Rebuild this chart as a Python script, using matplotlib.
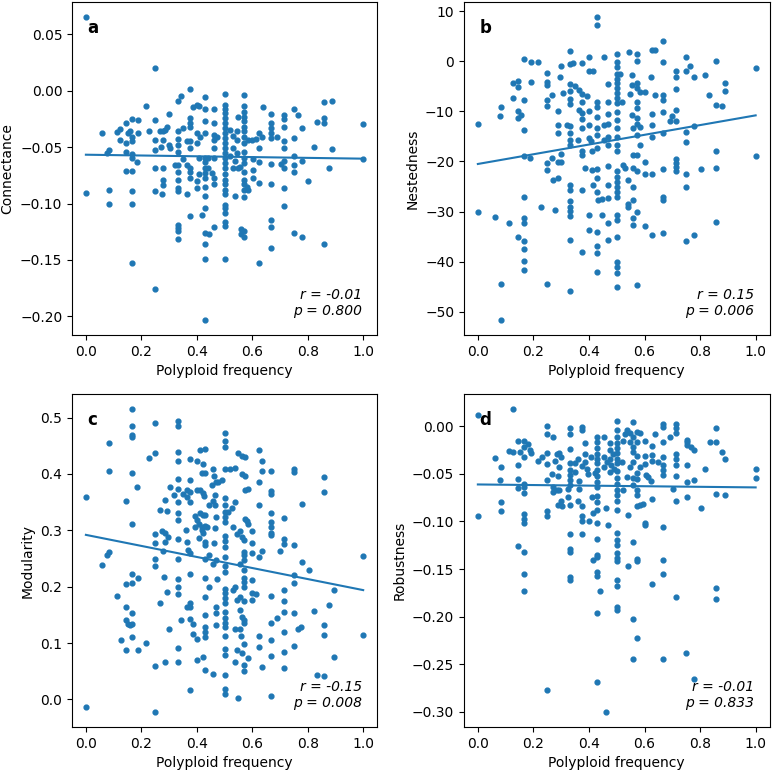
import numpy as np
import matplotlib.pyplot as plt

# each row: polyploid frequency, then the index values found at that frequency
cols_a = [
    (0.0, 0.065, -0.091),
    (0.058, -0.038),
    (0.077, -0.055),
    (0.083, -0.053, -0.088, -0.100),
    (0.111, -0.037),
    (0.124, -0.034, -0.044),
    (0.143, -0.029, -0.046, -0.054, -0.071),
    (0.153, -0.038),
    (0.159, -0.036),
    (0.167, -0.025, -0.041, -0.045, -0.056, -0.060, -0.071, -0.089, -0.100, -0.153),
    (0.183, -0.063),
    (0.189, -0.026, -0.038),
    (0.215, -0.014),
    (0.227, -0.036),
    (0.25, 0.020, -0.026, -0.044, -0.053, -0.069, -0.089, -0.176),
    (0.267, -0.036),
    (0.271, -0.050),
    (0.273, -0.092),
    (0.279, -0.036, -0.044, -0.069, -0.079, -0.084),
    (0.286, -0.035),
    (0.293, -0.032),
    (0.298, -0.021, -0.048),
    (0.304, -0.051),
    (0.321, -0.066),
    (0.333, -0.009, -0.036, -0.043, -0.048, -0.054, -0.066, -0.072, -0.079, -0.086, -0.089,
     -0.119, -0.122, -0.124, -0.131),
    (0.342, -0.005),
    (0.351, -0.033, -0.061),
    (0.363, -0.045, -0.066, -0.092),
    (0.375, 0.0015, -0.024, -0.029, -0.032, -0.045, -0.051, -0.069, -0.072, -0.077, -0.111),
    (0.385, -0.015),
    (0.4, -0.013, -0.038, -0.046, -0.080, -0.086),
    (0.409, -0.014, -0.060, -0.074),
    (0.411, -0.041),
    (0.418, -0.110),
    (0.429, -0.006, -0.016, -0.027, -0.038, -0.060, -0.063, -0.069, -0.073, -0.077, -0.085,
     -0.093, -0.104, -0.126, -0.136, -0.149, -0.203),
    (0.442, -0.060, -0.069),
    (0.445, -0.127),
    (0.454, -0.073),
    (0.462, -0.016, -0.029, -0.039, -0.044, -0.051, -0.060, -0.077, -0.083, -0.121),
    (0.474, -0.041),
    (0.5, -0.003, -0.013, -0.016, -0.020, -0.024, -0.029, -0.033, -0.038, -0.042, -0.046,
     -0.051, -0.055, -0.060, -0.064, -0.069, -0.074, -0.079, -0.083, -0.088, -0.092,
     -0.101, -0.104, -0.108, -0.116, -0.120, -0.149),
    (0.52, -0.035, -0.058),
    (0.532, -0.040, -0.051, -0.069),
    (0.538, -0.062, -0.093),
    (0.544, -0.036, -0.044, -0.055),
    (0.55, -0.023, -0.069),
    (0.556, -0.068),
    (0.56, -0.123, -0.127),
    (0.571, -0.004, -0.014, -0.019, -0.023, -0.027, -0.032, -0.036, -0.041, -0.046, -0.054,
     -0.060, -0.064, -0.072, -0.079, -0.083, -0.088, -0.094, -0.124, -0.130),
    (0.58, -0.085),
    (0.586, -0.044, -0.088),
    (0.598, -0.044),
    (0.604, -0.061, -0.070, -0.077),
    (0.614, -0.043),
    (0.626, -0.038, -0.051, -0.063, -0.082, -0.153),
    (0.634, -0.041),
    (0.638, -0.015),
    (0.667, -0.021, -0.029, -0.033, -0.038, -0.042, -0.065, -0.083, -0.115, -0.121, -0.139),
    (0.688, -0.041),
    (0.703, -0.065),
    (0.714, -0.022, -0.025, -0.032, -0.045, -0.051, -0.062, -0.069, -0.086, -0.102),
    (0.75, -0.016, -0.042, -0.058, -0.066, -0.072, -0.126),
    (0.766, -0.022),
    (0.778, -0.033, -0.062, -0.130),
    (0.8, -0.080),
    (0.821, -0.050),
    (0.833, -0.028),
    (0.857, -0.010, -0.024, -0.029, -0.136),
    (0.877, -0.069),
    (0.889, -0.009, -0.052),
    (1.0, -0.030, -0.061),
]

cols_b = [
    (0.0, -12.5, -30.0),
    (0.06, -31.0),
    (0.078, -11.0),
    (0.084, -9.2, -44.5, -51.6),
    (0.113, -32.2),
    (0.126, -4.3, -7.4),
    (0.144, -4.0, -5.2, -10.0, -11.4, -35.0),
    (0.156, -10.8),
    (0.167, 0.5, -7.8, -13.7, -19.0, -27.0, -31.3, -32.3, -35.8, -37.5, -39.8, -41.6),
    (0.186, -19.3),
    (0.19, -0.1, -4.1),
    (0.216, -0.1),
    (0.228, -29.1),
    (0.25, -2.3, -4.1, -4.8, -7.8, -8.9, -20.3, -21.8, -44.5),
    (0.266, -6.8, -19.3),
    (0.272, -23.6),
    (0.276, -29.6),
    (0.288, -10.0, -12.7, -14.3, -20.2, -23.2),
    (0.296, -3.1),
    (0.3, -0.9, -18.5, -20.2),
    (0.305, -6.3),
    (0.32, -12.7),
    (0.333, 2.0, -0.5, -4.6, -6.0, -7.6, -8.6, -13.0, -14.4, -15.7, -16.7, -24.7, -25.6,
     -27.8, -29.0, -29.9, -30.9, -35.7, -45.8),
    (0.344, -0.3),
    (0.35, -5.0),
    (0.362, -15.7),
    (0.364, -5.8, -9.8),
    (0.374, -0.3, -6.6, -8.1, -10.4, -11.6, -13.4, -18.0, -18.8, -25.7, -38.0),
    (0.386, -21.4),
    (0.392, -7.0),
    (0.4, 0.9, -2.0, -10.0, -12.7, -15.4, -30.7, -33.7),
    (0.408, -16.0),
    (0.412, -18.0, -21.7),
    (0.416, -2.0, -24.7),
    (0.429, 8.8, 7.2, -8.1, -9.1, -11.1, -13.4, -14.7, -17.4, -21.5, -23.2, -26.0, -34.0,
     -36.8, -38.3, -42.0),
    (0.434, -27.7),
    (0.446, -27.4, -30.7),
    (0.454, 0.9, -12.7, -15.7),
    (0.47, -4.6, -8.1, -10.6, -12.5, -15.1, -16.7, -21.0, -24.7, -27.2, -32.3, -35.7),
    (0.5, 1.5, -0.1, -1.1, -2.5, -3.5, -4.4, -5.4, -6.4, -7.4, -8.4, -10.1, -11.8, -13.4,
     -15.1, -16.7, -18.0, -22.0, -23.0, -24.0, -25.0, -26.0, -27.0, -30.7, -31.7, -35.0,
     -40.0, -41.0, -42.3, -45.0),
    (0.512, -2.5),
    (0.518, -8.1),
    (0.524, -20.7),
    (0.53, -21.4),
    (0.54, -28.4),
    (0.542, -23.7, -29.0),
    (0.545, 1.9),
    (0.548, -6.6),
    (0.554, -2.7, -4.8, -10.8),
    (0.557, -27.7, -31.3, -32.7),
    (0.56, -13.4, -18.8, -21.4, -25.0),
    (0.572, 1.5, 0.0, -4.4, -5.4, -8.1, -9.4, -11.4, -12.6, -14.7, -18.8, -22.0, -30.0, -44.6),
    (0.584, -6.2, -13.1, -16.7),
    (0.6, -6.1, -20.2),
    (0.602, -22.4, -32.9),
    (0.624, -3.1),
    (0.626, 2.2, -10.6, -12.7, -15.1, -22.4, -34.7),
    (0.636, 2.3),
    (0.638, -6.8),
    (0.668, 4.0, -0.1, -6.8, -7.8, -10.1, -14.3, -21.6, -27.0, -27.7, -34.3),
    (0.69, -11.9),
    (0.698, -10.9),
    (0.714, -1.9, -3.1, -5.6, -9.8, -11.9, -19.5, -20.4, -21.2, -22.0),
    (0.75, 0.9, -1.9, -14.1, -16.1, -22.4, -25.0, -35.9),
    (0.764, -1.0),
    (0.778, -3.1, -12.9, -34.7),
    (0.802, -21.6),
    (0.818, -2.8),
    (0.833, -6.8),
    (0.857, 0.0, -8.8, -18.0, -21.4, -32.0),
    (0.878, -9.0),
    (0.89, -4.4, -5.9),
    (1.0, -1.3, -18.9),
]

cols_c = [
    (0.0, 0.360, -0.014),
    (0.058, 0.239),
    (0.075, 0.256),
    (0.084, 0.262, 0.455, 0.406),
    (0.111, 0.184),
    (0.125, 0.106),
    (0.143, 0.352, 0.205, 0.164, 0.141, 0.087),
    (0.153, 0.133),
    (0.159, 0.132),
    (0.167, 0.515, 0.486, 0.470, 0.466, 0.402, 0.311, 0.222, 0.207, 0.154, 0.133, 0.110),
    (0.183, 0.377),
    (0.189, 0.216, 0.088),
    (0.215, 0.100),
    (0.229, 0.429),
    (0.25, 0.491, 0.438, 0.293, 0.277, 0.250, 0.237, 0.060, -0.022),
    (0.267, 0.336, 0.171),
    (0.273, 0.299),
    (0.279, 0.263),
    (0.281, 0.217),
    (0.286, 0.354, 0.280, 0.296, 0.066),
    (0.293, 0.335, 0.190),
    (0.297, 0.289),
    (0.299, 0.125),
    (0.303, 0.377),
    (0.319, 0.363),
    (0.333, 0.494, 0.485, 0.439, 0.423, 0.391, 0.373, 0.351, 0.330, 0.318, 0.285, 0.249,
     0.213, 0.200, 0.187, 0.091, 0.066),
    (0.342, 0.141),
    (0.351, 0.365),
    (0.361, 0.300),
    (0.363, 0.279, 0.360),
    (0.366, 0.164, 0.371),
    (0.369, 0.266),
    (0.375, 0.427, 0.389, 0.368, 0.350, 0.259, 0.223, 0.171, 0.164, 0.142, 0.016),
    (0.385, 0.133, 0.116),
    (0.393, 0.325, 0.306),
    (0.4, 0.423, 0.318, 0.107, 0.070),
    (0.402, 0.371),
    (0.409, 0.312, 0.286),
    (0.41, 0.442),
    (0.411, 0.371, 0.331),
    (0.417, 0.402, 0.306, 0.300),
    (0.421, 0.367, 0.327, 0.296, 0.076),
    (0.423, 0.417),
    (0.426, 0.361),
    (0.429, 0.444, 0.402, 0.327, 0.308, 0.280, 0.274, 0.250, 0.215, 0.181, 0.150, 0.128,
     0.119, 0.110, 0.053),
    (0.435, 0.306),
    (0.445, 0.345, 0.256, 0.200),
    (0.454, 0.381),
    (0.457, 0.408, 0.241, 0.046),
    (0.46, 0.352),
    (0.462, 0.396, 0.278),
    (0.466, 0.363, 0.345, 0.305),
    (0.469, 0.386, 0.324, 0.247, 0.164, 0.153, 0.132),
    (0.474, 0.213),
    (0.478, 0.386),
    (0.49, 0.389),
    (0.5, 0.473, 0.459, 0.447, 0.408, 0.357, 0.345, 0.333, 0.324, 0.315, 0.290, 0.282, 0.271,
     0.253, 0.236, 0.227, 0.196, 0.188, 0.180, 0.171, 0.156, 0.144, 0.135, 0.128, 0.113,
     0.089, 0.078, 0.043, 0.019, 0.010),
    (0.514, 0.332),
    (0.52, 0.409),
    (0.526, 0.339),
    (0.532, 0.306, 0.195),
    (0.538, 0.350, 0.411, 0.200, 0.125, 0.067),
    (0.544, 0.293, 0.177, 0.088),
    (0.547, 0.002),
    (0.55, 0.437),
    (0.556, 0.298, 0.241, 0.182, 0.159, 0.125),
    (0.558, 0.112),
    (0.562, 0.432, 0.400, 0.289, 0.147, 0.082),
    (0.571, 0.283, 0.262, 0.256, 0.247, 0.230, 0.215, 0.209, 0.200, 0.175, 0.141, 0.135,
     0.099, 0.061, 0.050),
    (0.572, 0.397, 0.321),
    (0.574, 0.430, 0.371),
    (0.58, 0.316),
    (0.586, 0.373, 0.312, 0.073),
    (0.6, 0.299, 0.277, 0.259, 0.212, 0.188, 0.177),
    (0.612, 0.187),
    (0.626, 0.442, 0.386, 0.345, 0.253, 0.112, 0.093),
    (0.634, 0.423, 0.405, 0.264, 0.057),
    (0.667, 0.405, 0.370, 0.364, 0.331, 0.314, 0.306, 0.296, 0.292, 0.184, 0.135, 0.105,
     0.077, 0.007),
    (0.688, 0.144),
    (0.7, 0.264),
    (0.714, 0.322, 0.284, 0.276, 0.194, 0.175, 0.156, 0.120, 0.084, 0.055),
    (0.75, 0.408, 0.404, 0.274, 0.221, 0.207, 0.153, 0.094),
    (0.766, 0.125),
    (0.775, 0.129),
    (0.778, 0.347),
    (0.781, 0.243),
    (0.803, 0.230),
    (0.821, 0.157),
    (0.835, 0.043),
    (0.859, 0.395, 0.368, 0.132, 0.115, 0.041),
    (0.877, 0.168),
    (0.893, 0.194, 0.076),
    (1.0, 0.255, 0.115),
]

cols_d = [
    (0.0, 0.012, -0.094),
    (0.06, -0.033),
    (0.08, -0.056),
    (0.084, -0.043, -0.080, -0.089),
    (0.113, -0.026),
    (0.126, 0.018, -0.027),
    (0.144, -0.015, -0.041, -0.055, -0.065, -0.126),
    (0.15, -0.027),
    (0.167, -0.015, -0.022, -0.032, -0.061, -0.064, -0.070, -0.092, -0.097, -0.102, -0.132,
     -0.155, -0.173),
    (0.182, -0.019),
    (0.188, -0.025),
    (0.192, -0.028),
    (0.216, -0.036),
    (0.23, -0.032),
    (0.25, 0.0, -0.008, -0.028, -0.040, -0.056, -0.089, -0.094, -0.277),
    (0.266, -0.050),
    (0.272, -0.011, -0.064, -0.069),
    (0.278, -0.036),
    (0.284, -0.029, -0.067),
    (0.288, -0.083),
    (0.29, -0.052),
    (0.292, -0.028, -0.043, -0.067),
    (0.3, -0.032, -0.078),
    (0.302, -0.084),
    (0.324, -0.066, -0.074),
    (0.333, -0.002, -0.008, -0.024, -0.039, -0.046, -0.051, -0.056, -0.062, -0.083, -0.113,
     -0.129, -0.132, -0.158, -0.161),
    (0.35, -0.039, -0.048),
    (0.362, -0.034, -0.079),
    (0.364, -0.057, -0.066),
    (0.374, -0.001, -0.004, -0.042, -0.084, -0.094, -0.099, -0.113),
    (0.386, -0.018, -0.029, -0.037),
    (0.392, -0.045),
    (0.398, -0.050),
    (0.4, -0.100),
    (0.408, -0.032),
    (0.41, -0.074),
    (0.416, -0.091, -0.140),
    (0.42, -0.049),
    (0.429, -0.011, -0.017, -0.023, -0.029, -0.034, -0.039, -0.046, -0.052, -0.058, -0.064,
     -0.073, -0.080, -0.088, -0.102, -0.118, -0.135, -0.137, -0.153, -0.157, -0.196, -0.269),
    (0.44, -0.173),
    (0.455, -0.011, -0.032, -0.043),
    (0.462, -0.086, -0.300),
    (0.464, -0.037),
    (0.47, -0.104),
    (0.476, -0.018, -0.025, -0.034, -0.048),
    (0.478, -0.041),
    (0.488, -0.029),
    (0.49, -0.045),
    (0.5, 0.006, -0.004, -0.011, -0.018, -0.023, -0.028, -0.034, -0.039, -0.047, -0.054,
     -0.061, -0.067, -0.072, -0.078, -0.088, -0.112, -0.119, -0.125, -0.133, -0.138, -0.142,
     -0.162, -0.168, -0.190, -0.193),
    (0.518, -0.037),
    (0.524, -0.015, -0.067),
    (0.53, -0.008),
    (0.536, -0.004, -0.053),
    (0.54, -0.093, -0.147),
    (0.546, -0.007),
    (0.548, -0.016, -0.043),
    (0.557, 0.004, -0.011, -0.022, -0.027, -0.037, -0.054, -0.062, -0.122, -0.202, -0.244),
    (0.572, -0.006, -0.017, -0.031, -0.049, -0.055, -0.067, -0.072, -0.084, -0.139, -0.142,
     -0.222),
    (0.582, -0.043, -0.083),
    (0.584, -0.007),
    (0.594, -0.082),
    (0.602, -0.015, -0.031, -0.040, -0.102, -0.104),
    (0.606, -0.051),
    (0.614, -0.053),
    (0.623, -0.057),
    (0.626, -0.021, -0.030, -0.036, -0.076, -0.166),
    (0.636, -0.008),
    (0.65, -0.037),
    (0.668, 0.002, -0.001, -0.016, -0.032, -0.041, -0.046, -0.051, -0.106, -0.140, -0.155,
     -0.244),
    (0.69, -0.011),
    (0.702, -0.066),
    (0.714, 0.002, -0.002, -0.007, -0.029, -0.034, -0.041, -0.052, -0.078, -0.179),
    (0.75, -0.238),
    (0.752, -0.014, -0.017, -0.020, -0.041, -0.059, -0.074),
    (0.767, -0.022),
    (0.778, -0.025, -0.056, -0.265),
    (0.802, -0.086),
    (0.818, -0.045),
    (0.836, -0.016),
    (0.857, -0.002, -0.016, -0.071, -0.170, -0.181),
    (0.878, -0.027),
    (0.89, -0.034, -0.072),
    (1.0, -0.045, -0.054),
]

# fitted line values at x = 0 and x = 1
fit_a = [-0.0568, -0.0603]
fit_b = [-20.5, -10.8]
fit_c = [0.292, 0.194]
fit_d = [-0.0611, -0.0642]

panel_letters = ['a', 'b', 'c', 'd']
y_labels = ['Connectance', 'Nestedness', 'Modularity', 'Robustness']
r_text = ['-0.01', '0.15', '-0.15', '-0.01']
p_text = ['0.800', '0.006', '0.008', '0.833']


def unpack(cols):
    xs, ys = [], []
    for row in cols:
        for v in row[1:]:
            xs.append(row[0])
            ys.append(v)
    return np.array(xs), np.array(ys)


fig = plt.figure(figsize=(7.72, 7.72), dpi=100)
boxes = [
    [0.0933, 0.5661, 0.3951, 0.4313],
    [0.6010, 0.5661, 0.3958, 0.4313],
    [0.0933, 0.0583, 0.3951, 0.4313],
    [0.6010, 0.0583, 0.3958, 0.4313],
]
all_cols = [cols_a, cols_b, cols_c, cols_d]
all_fits = [fit_a, fit_b, fit_c, fit_d]
blue = '#1f77b4'

for i in range(4):
    ax = fig.add_axes(boxes[i])
    x, y = unpack(all_cols[i])
    ax.scatter(x, y, s=12, color=blue)
    ax.plot([0, 1], all_fits[i], color=blue, lw=1.5)
    ax.set_xlabel('Polyploid frequency')
    ax.set_ylabel(y_labels[i])
    ax.text(0.05, 0.95, panel_letters[i], transform=ax.transAxes,
            fontsize=12, fontweight='bold', va='top', ha='left')
    ax.text(0.95, 0.05, f'r = {r_text[i]}\np = {p_text[i]}', transform=ax.transAxes,
            fontsize=10, style='italic', ha='right', va='bottom')

fig.savefig('out.png', dpi=100)
